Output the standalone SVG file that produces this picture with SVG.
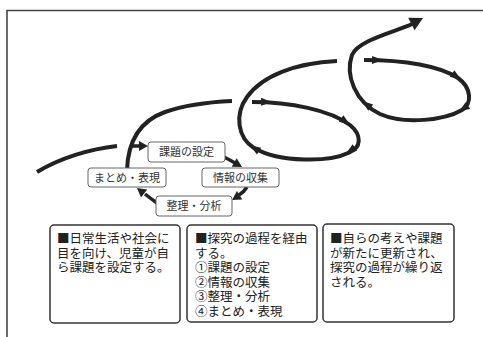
<svg xmlns="http://www.w3.org/2000/svg" width="483" height="337" viewBox="0 0 483 337">
<style>
.frame{fill:none;stroke:#444;stroke-width:1.6}
.curve{fill:none;stroke:#222;stroke-width:4}
.link{fill:none;stroke:#222;stroke-width:3.5}
.ah{fill:#222}
.sbox{fill:#fff;stroke:#666;stroke-width:1}
.bbox{fill:#fff;stroke:#333;stroke-width:1.5}
.st{font-family:"Noto Sans CJK JP","Noto Sans",sans-serif;font-size:11px;fill:#333;text-anchor:middle}
.bt{font-family:"Liberation Sans","Noto Sans CJK JP",sans-serif;font-size:12.5px;fill:#222}
.sq{font-family:"Noto Sans CJK JP",sans-serif}
</style>
<defs>
<path id="mh" d="M-6,-4 L5,0 L-6,4 Z"/>
<path id="th" d="M-9,-5 L0,0 L-9,5 Z"/>
<path id="bh" d="M-13,-7 L0,0 L-13,7 Z"/>
</defs>
<rect width="483" height="337" fill="#fff"/>
<path class="frame" d="M7,337 V10.5 H483"/>
<g id="connectors">
<path class="curve" d="M37,172 C60,158 90,149 117,146"/>
<path class="curve" d="M127,170 C128,140 140,121 165,112 C185,105 210,102 232,101"/>
<path class="curve" d="M252,102 C290,102 330,110 350,125 C362,135 362,148 348,153 C330,162 280,163 254,148 C238,138 234,115 247,97 C262,76 295,63 337,61"/>
<path class="curve" d="M364,60 C405,60 440,66 458,78 C472,88 472,104 462,110 C445,120 405,125 380,114 C355,102 345,75 352,55 C358,40 398,31 412,24"/>
<use href="#bh" class="ah" transform="translate(423,18) rotate(-27)"/>
<use href="#mh" class="ah" transform="translate(267,102) rotate(2)"/>
<use href="#mh" class="ah" transform="translate(346,122) rotate(35)"/>
<use href="#mh" class="ah" transform="translate(350,151) rotate(145)"/>
<use href="#mh" class="ah" transform="translate(254,148) rotate(212)"/>
<use href="#mh" class="ah" transform="translate(378,60) rotate(1)"/>
<use href="#mh" class="ah" transform="translate(457,77) rotate(35)"/>
<use href="#mh" class="ah" transform="translate(463,109) rotate(145)"/>
<use href="#mh" class="ah" transform="translate(366,104) rotate(218)"/>
<path class="link" d="M131,146 L140,146"/>
<use href="#th" class="ah" transform="translate(148,146)"/>
<path class="link" d="M224,157 Q230,160 235,163"/>
<use href="#th" class="ah" transform="translate(242,167) rotate(30)"/>
<path class="link" d="M247,187 Q244,192 239,195"/>
<use href="#th" class="ah" transform="translate(232,200) rotate(148)"/>
<path class="link" d="M157,203 Q150,198 145,194"/>
<use href="#th" class="ah" transform="translate(137,188) rotate(218)"/>
</g>
<g id="kadai">
<rect class="sbox" x="148" y="142" width="77" height="20" rx="3"/>
<text class="st" x="186.5" y="156">課題の設定</text>
</g>
<g id="matome">
<rect class="sbox" x="88" y="168" width="78" height="19" rx="3"/>
<text class="st" x="127" y="181.5">まとめ・表現</text>
</g>
<g id="joho">
<rect class="sbox" x="202" y="168" width="77" height="19" rx="3"/>
<text class="st" x="240.5" y="181.5">情報の収集</text>
</g>
<g id="seiri">
<rect class="sbox" x="156" y="196" width="76" height="20" rx="3"/>
<text class="st" x="194" y="210">整理・分析</text>
</g>
<g id="box1">
<rect class="bbox" x="50" y="225" width="130" height="98" rx="4"/>
<text class="bt" x="57" y="242.5"><tspan class="sq">■</tspan>日常生活や社会に</text>
<text class="bt" x="57" y="257.5">目を向け、児童が自</text>
<text class="bt" x="57" y="272">ら課題を設定する。</text>
</g>
<g id="box2">
<rect class="bbox" x="187" y="225" width="130" height="97" rx="4"/>
<text class="bt" x="195" y="242.5"><tspan class="sq">■</tspan>探究の過程を経由</text>
<text class="bt" x="195" y="257.5">する。</text>
<text class="bt" x="195" y="272">①課題の設定</text>
<text class="bt" x="195" y="286.5">②情報の収集</text>
<text class="bt" x="195" y="301">③整理・分析</text>
<text class="bt" x="195" y="315.5">④まとめ・表現</text>
</g>
<g id="box3">
<rect class="bbox" x="323" y="224" width="131" height="98" rx="4"/>
<text class="bt" x="330" y="242.5"><tspan class="sq">■</tspan>自らの考えや課題</text>
<text class="bt" x="330" y="257.5">が新たに更新され、</text>
<text class="bt" x="330" y="272">探究の過程が繰り返</text>
<text class="bt" x="330" y="286.5">される。</text>
</g>
</svg>
